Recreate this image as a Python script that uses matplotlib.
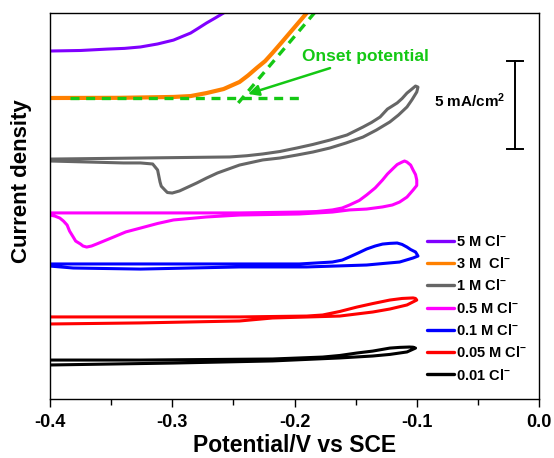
import matplotlib
matplotlib.use("Agg")
import matplotlib.pyplot as plt

plt.rcParams['font.family'] = ['Liberation Sans', 'DejaVu Sans']
plt.rcParams['font.weight'] = 'bold'
plt.rcParams['mathtext.fontset'] = 'custom'
plt.rcParams['mathtext.rm'] = 'Liberation Sans:bold'
plt.rcParams['mathtext.bf'] = 'Liberation Sans:bold'
plt.rcParams['mathtext.it'] = 'Liberation Sans:bold'

# ---- data (potential in V vs SCE, current density in stacked mA/cm2) ----
labels = [r"5 M Cl$^{-}$", r"3 M  Cl$^{-}$", r"1 M Cl$^{-}$", r"0.5 M Cl$^{-}$",
          r"0.1 M Cl$^{-}$", r"0.05 M Cl$^{-}$", r"0.01 Cl$^{-}$"]
colors = ['#8000ff', '#ff8000', '#666666', '#ff00ff', '#0000ff', '#ff0000', '#000000']

v_5M = [-0.400, -0.375, -0.353, -0.339, -0.326, -0.312, -0.299, -0.285, -0.279, -0.272,
        -0.265, -0.258, -0.253]
j_5M = [19.83, 19.86, 19.94, 19.98, 20.06, 20.23, 20.45, 20.85, 21.11, 21.42,
        21.70, 21.99, 22.33]

v_3M = [-0.400, -0.343, -0.299, -0.285, -0.272, -0.258, -0.245, -0.238, -0.231, -0.224,
        -0.218, -0.211, -0.204, -0.197, -0.190, -0.186]
j_3M = [17.16, 17.17, 17.22, 17.27, 17.44, 17.67, 18.07, 18.44, 18.86, 19.26,
        19.72, 20.28, 20.85, 21.42, 21.99, 22.44]

v_1M = [-0.400, -0.326, -0.253, -0.239, -0.226, -0.212, -0.198, -0.185, -0.171, -0.157,
        -0.144, -0.137, -0.130, -0.124, -0.116, -0.112, -0.108, -0.105, -0.101, -0.099,
        -0.100, -0.104, -0.108, -0.115, -0.122, -0.133, -0.144, -0.158, -0.171, -0.185,
        -0.198, -0.212, -0.226, -0.245, -0.263, -0.272, -0.280, -0.294, -0.300, -0.304,
        -0.306, -0.309, -0.310, -0.312, -0.316, -0.326, -0.340, -0.400]
j_1M = [13.69, 13.75, 13.81, 13.88, 13.98, 14.12, 14.32, 14.52, 14.77, 15.06,
        15.51, 15.77, 16.08, 16.53, 16.88, 17.13, 17.44, 17.61, 17.84, 17.78,
        17.50, 17.05, 16.65, 16.19, 15.80, 15.34, 14.94, 14.60, 14.32, 14.09,
        13.92, 13.75, 13.64, 13.35, 12.90, 12.61, 12.33, 11.88, 11.76, 11.79,
        11.93, 12.15, 12.39, 13.07, 13.41, 13.47, 13.47, 13.58]

v_05M = [-0.400, -0.326, -0.245, -0.196, -0.182, -0.169, -0.161, -0.155, -0.147, -0.141,
         -0.134, -0.128, -0.124, -0.119, -0.116, -0.112, -0.110, -0.108, -0.105, -0.103,
         -0.101, -0.100, -0.100, -0.103, -0.108, -0.114, -0.120, -0.128, -0.141, -0.155,
         -0.169, -0.196, -0.245, -0.272, -0.299, -0.312, -0.326, -0.338, -0.348, -0.355,
         -0.362, -0.366, -0.370, -0.373, -0.375, -0.379, -0.381, -0.384, -0.386, -0.389,
         -0.392, -0.396, -0.400]
j_05M = [10.63, 10.63, 10.63, 10.68, 10.71, 10.80, 10.91, 11.08, 11.34, 11.65,
         12.05, 12.50, 12.84, 13.18, 13.38, 13.52, 13.58, 13.52, 13.35, 13.07,
         12.81, 12.50, 12.19, 11.93, 11.53, 11.25, 11.08, 10.97, 10.85, 10.80,
         10.68, 10.57, 10.51, 10.40, 10.23, 10.03, 9.77, 9.55, 9.26, 9.06,
         8.86, 8.75, 8.69, 8.75, 8.86, 9.03, 9.26, 9.60, 9.94, 10.17,
         10.34, 10.45, 10.51]

v_01M = [-0.400, -0.326, -0.245, -0.196, -0.169, -0.161, -0.155, -0.148, -0.141, -0.134,
         -0.128, -0.122, -0.116, -0.112, -0.108, -0.105, -0.101, -0.100, -0.099, -0.103,
         -0.114, -0.127, -0.141, -0.190, -0.245, -0.326, -0.381, -0.400]
j_01M = [7.73, 7.73, 7.73, 7.73, 7.84, 7.95, 8.13, 8.35, 8.58, 8.75,
         8.86, 8.90, 8.92, 8.84, 8.69, 8.55, 8.41, 8.30, 8.18, 8.07,
         7.84, 7.76, 7.67, 7.56, 7.56, 7.44, 7.50, 7.61]

v_005M = [-0.400, -0.326, -0.245, -0.190, -0.177, -0.163, -0.149, -0.136, -0.122, -0.112,
          -0.103, -0.101, -0.100, -0.108, -0.122, -0.136, -0.163, -0.218, -0.245, -0.326,
          -0.400]
j_005M = [4.72, 4.72, 4.72, 4.77, 4.83, 5.03, 5.28, 5.48, 5.68, 5.77,
          5.80, 5.77, 5.68, 5.40, 5.17, 5.00, 4.77, 4.66, 4.49, 4.38,
          4.32]

v_001M = [-0.400, -0.326, -0.218, -0.177, -0.163, -0.149, -0.136, -0.122, -0.114, -0.106,
          -0.103, -0.101, -0.108, -0.122, -0.136, -0.163, -0.218, -0.299, -0.400]
j_001M = [2.27, 2.27, 2.33, 2.44, 2.53, 2.67, 2.78, 2.95, 2.99, 3.01,
          3.00, 2.95, 2.73, 2.59, 2.50, 2.39, 2.22, 2.10, 1.99]

potentials = [v_5M, v_3M, v_1M, v_05M, v_01M, v_005M, v_001M]
currents = [j_5M, j_3M, j_1M, j_05M, j_01M, j_005M, j_001M]

# onset construction on the 3 M curve
baseline_v = [-0.384, -0.193]
baseline_j = [17.16, 17.16]
tangent_v = [-0.246, -0.180]
tangent_j = [16.88, 22.30]
onset_tip = (-0.238, 17.39)
onset_text_pos = (-0.194, 19.49)

scale_bar_value = 5.0  # mA/cm2

x_ticks = [-0.4, -0.3, -0.2, -0.1, 0.0]
x_tick_labels = ['-0.4', '-0.3', '-0.2', '-0.1', '0.0']

# ---- figure ----
fig = plt.figure(figsize=(5.54, 4.58), dpi=100)
ax = fig.add_axes([50 / 554, 59 / 458, 489 / 554, 386 / 458])

green = '#14c814'
for v, j, c, lab in zip(potentials, currents, colors, labels):
    lw = 3.0 if c == '#ff8000' else 2.2
    ax.plot(v, j, color=c, lw=lw, label=lab, solid_joinstyle='round', solid_capstyle='round')

ax.plot(baseline_v, baseline_j, color=green, lw=2.4, dashes=(2.7, 2.0))
ax.plot(tangent_v, tangent_j, color=green, lw=2.4, dashes=(2.7, 2.0))
ax.annotate('Onset potential', xy=onset_tip, xytext=onset_text_pos,
            color=green, fontsize=12.5, fontweight='bold', ha='left', va='center',
            arrowprops=dict(arrowstyle='-|>', color=green, lw=1.8, mutation_scale=16,
                            shrinkA=2, shrinkB=0))

# scale bar
sb_x = -0.0196
sb_top = 19.26
ax.plot([sb_x, sb_x], [sb_top - scale_bar_value, sb_top], color='black', lw=1.4)
for yy in (sb_top - scale_bar_value, sb_top):
    ax.plot([sb_x - 0.0062, sb_x + 0.0062], [yy, yy], color='black', lw=1.4)
ax.text(-0.086, 16.65, r"5 mA/cm$^{2}$", fontsize=11, fontweight='bold',
        ha='left', va='baseline')

ax.set_xlim(-0.4, 0.0)
ax.set_ylim(0.057, 21.99)
ax.set_xticks(x_ticks)
ax.set_xticklabels(x_tick_labels)
ax.set_xticks([-0.35, -0.25, -0.15, -0.05], minor=True)
ax.tick_params(axis='x', which='major', direction='out', length=6, width=1, labelsize=13, pad=5)
ax.tick_params(axis='x', which='minor', direction='out', length=4, width=1)
ax.set_yticks([])
for s in ax.spines.values():
    s.set_linewidth(1.0)
for t in ax.get_xticklabels():
    t.set_fontweight('bold')

ax.set_xlabel('Potential/V vs SCE', fontsize=16.5, fontweight='bold', labelpad=2)
ax.set_ylabel('Current density', fontsize=16, fontweight='bold')
ax.yaxis.set_label_coords(-0.036, 0.565)

leg = ax.legend(loc='upper left', bbox_to_anchor=(0.77, 0.428), frameon=False,
                fontsize=10.5, handlelength=1.85, handletextpad=0.15,
                labelspacing=0.5, borderpad=0, borderaxespad=0)
for t in leg.get_texts():
    t.set_fontweight('bold')
for h in leg.get_lines():
    h.set_linewidth(2.4)

fig.savefig('out.png', dpi=100)
